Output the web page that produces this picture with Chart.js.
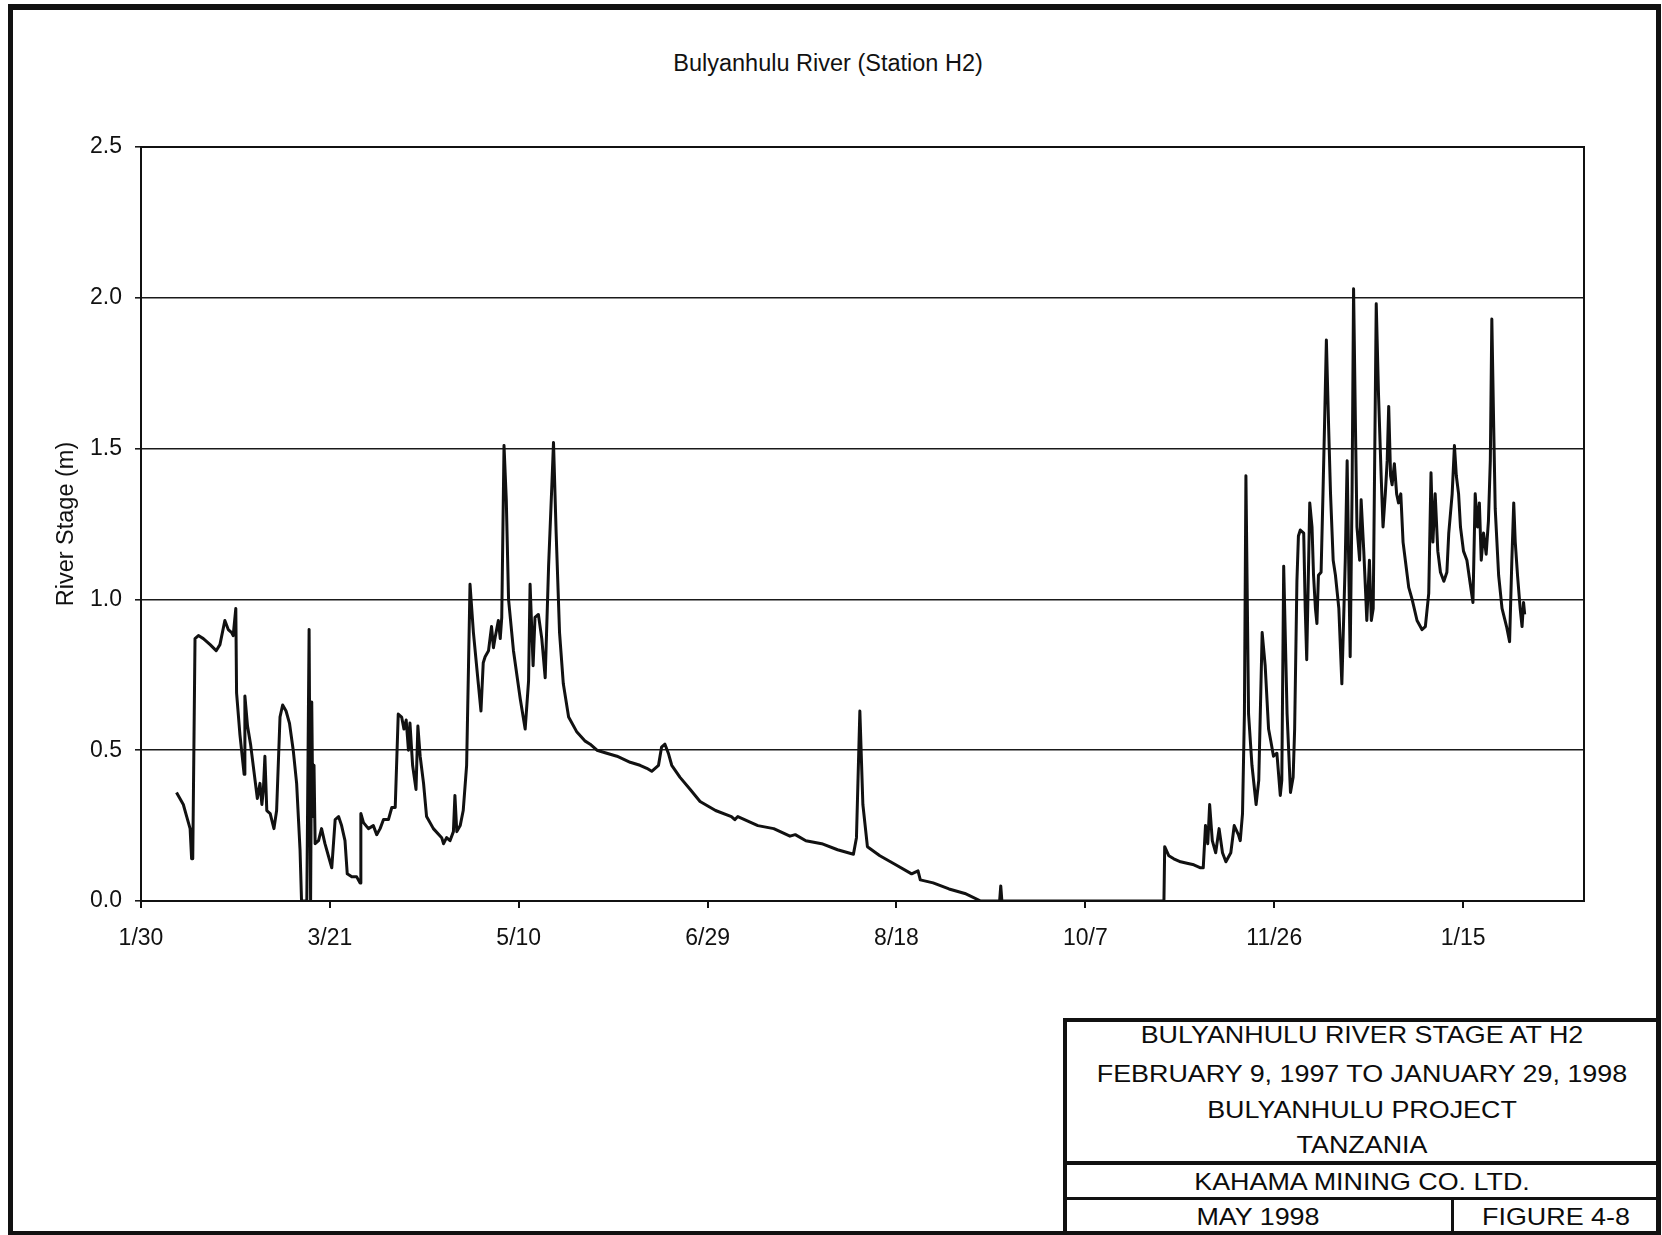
<!DOCTYPE html>
<html>
<head>
<meta charset="utf-8">
<title>Bulyanhulu River (Station H2)</title>
<script src="https://cdn.jsdelivr.net/npm/chart.js@4/dist/chart.umd.min.js"></script>
<style>
  html, body { margin: 0; padding: 0; background: #fff; }
  body { width: 1662px; height: 1235px; position: relative; overflow: hidden;
         font-family: 'Liberation Sans', Arial, Helvetica, sans-serif; color: #111; }
  #frame { position: absolute; left: 8px; top: 4px; width: 1653px; height: 1231px; box-sizing: border-box;
           border-style: solid; border-color: #111; border-width: 6px 5px 4px 5px; }
  #chartBox { position: absolute; left: 0; top: 0; width: 1662px; height: 960px; }
  #title { position: absolute; left: 528px; top: 52px; width: 600px; text-align: center;
           font-size: 23.5px; line-height: 1; white-space: nowrap; }
  .rule { position: absolute; background: #111; }
  .tb { position: absolute; width: 600px; text-align: center; font-size: 24px; line-height: 1;
        white-space: nowrap; transform: scaleX(1.12); color: #0c0c0c; }
</style>
</head>
<body>
<div id="frame"></div>
<div id="title">Bulyanhulu River (Station H2)</div>
<div id="chartBox"><canvas id="stageChart"></canvas></div>

<!-- drawing title block -->
<div class="rule" style="left:1063px; top:1018px; width:598px; height:4px;"></div>
<div class="rule" style="left:1063px; top:1018px; width:4px; height:217px;"></div>
<div class="rule" style="left:1063px; top:1161px; width:598px; height:4px;"></div>
<div class="rule" style="left:1063px; top:1197px; width:598px; height:3px;"></div>
<div class="rule" style="left:1451px; top:1197px; width:3px; height:38px;"></div>
<div class="tb" style="left:1062px; top:1023.3px;">BULYANHULU RIVER STAGE AT H2</div>
<div class="tb" style="left:1062px; top:1062.3px;">FEBRUARY 9, 1997 TO JANUARY 29, 1998</div>
<div class="tb" style="left:1062px; top:1098.3px;">BULYANHULU PROJECT</div>
<div class="tb" style="left:1062px; top:1133.3px;">TANZANIA</div>
<div class="tb" style="left:1062px; top:1170.3px;">KAHAMA MINING CO. LTD.</div>
<div class="tb" style="left:958px; top:1205.3px;">MAY 1998</div>
<div class="tb" style="left:1256px; top:1205.3px;">FIGURE 4-8</div>

<script>
// Days counted from 30 January 1997 (axis origin)
const days = [
  9.4, 10.3, 11.2, 12.1, 13.0, 13.4, 13.7, 14.3, 15.2, 16.5,
  18.3, 19.9, 20.9, 22.2, 23.1, 24.0, 24.4, 25.1, 25.3, 26.2,
  27.3, 27.5, 28.2, 29.0, 29.9, 30.8, 31.5, 32.0, 32.4, 32.8,
  33.3, 34.2, 35.2, 35.9, 36.8, 37.5, 38.4, 39.3, 40.3, 41.2,
  42.1, 42.5, 43.9, 44.5, 44.9, 45.2, 45.5, 45.8, 46.1, 47.0,
  47.8, 48.7, 49.6, 50.5, 51.4, 52.3, 53.1, 54.0, 54.6, 55.8,
  57.1, 58.0, 58.2, 58.9, 60.2, 61.5, 62.4, 63.3, 64.2, 65.5,
  66.4, 67.3, 68.1, 69.0, 69.6, 70.2, 70.8, 71.2, 71.9, 72.8,
  73.3, 73.9, 74.8, 75.6, 77.4, 79.6, 80.1, 80.9, 81.8, 82.7,
  83.1, 83.6, 84.5, 85.3, 86.2, 86.7, 87.1, 88.0, 89.3, 90.0,
  90.6, 91.1, 92.0, 92.8, 93.3, 93.7, 94.6, 95.1, 95.5, 96.1,
  96.7, 97.3, 98.6, 100.4, 101.7, 102.6, 103.0, 103.8, 104.3, 105.2,
  106.1, 107.0, 107.9, 108.8, 109.2, 109.9, 110.8, 111.8, 113.2, 115.4,
  117.6, 118.9, 120.7, 123.3, 126.0, 129.5, 132.1, 133.9, 135.2, 137.0,
  137.8, 138.7, 139.6, 140.5, 142.7, 145.4, 148.0, 152.1, 156.3, 157.2,
  158.0, 163.3, 167.5, 171.8, 173.2, 176.0, 180.2, 184.4, 188.6, 189.4,
  190.3, 191.1, 192.3, 195.6, 199.8, 204.0, 205.7, 206.3, 209.7, 213.9,
  218.1, 222.3, 227.3, 227.6, 227.9, 270.8, 271.0, 272.1, 273.4, 275.2,
  276.9, 278.7, 280.5, 281.2, 281.8, 282.4, 282.9, 283.6, 284.5, 285.4,
  286.3, 287.2, 288.5, 289.4, 290.5, 291.0, 291.6, 292.1, 292.5, 293.2,
  294.1, 295.2, 295.9, 296.8, 297.6, 298.5, 299.1, 299.8, 300.7, 301.6,
  302.0, 302.5, 303.4, 304.3, 305.0, 305.4, 306.0, 306.4, 306.9, 307.8,
  308.2, 308.6, 309.4, 310.0, 310.4, 310.9, 311.3, 311.7, 312.4, 312.9,
  313.3, 313.8, 314.4, 314.9, 315.6, 316.2, 317.1, 317.9, 318.8, 319.3,
  319.7, 320.1, 320.6, 321.0, 321.5, 321.9, 322.6, 323.0, 323.7, 324.2,
  324.5, 325.2, 325.7, 326.2, 326.5, 327.0, 327.6, 328.3, 328.8, 329.4,
  329.9, 330.3, 330.8, 331.2, 331.8, 332.4, 332.9, 333.5, 334.1, 334.7,
  335.6, 336.5, 337.8, 339.1, 340.0, 340.9, 341.5, 342.0, 342.6, 343.3,
  344.0, 344.9, 345.7, 346.2, 347.1, 347.7, 348.2, 348.8, 349.3, 350.1,
  351.0, 351.9, 352.6, 353.2, 353.8, 354.3, 354.8, 355.4, 356.1, 356.7,
  357.2, 357.6, 358.1, 358.5, 359.4, 360.3, 361.5, 362.3, 362.9, 363.4,
  363.8, 364.4, 365.1, 365.6, 366.0, 366.3
];

// River stage (m) at Station H2
const stage = [
  0.36, 0.34, 0.32, 0.28, 0.24, 0.14, 0.14, 0.87, 0.88, 0.87,
  0.85, 0.83, 0.85, 0.93, 0.90, 0.89, 0.88, 0.97, 0.69, 0.55,
  0.42, 0.68, 0.58, 0.52, 0.43, 0.34, 0.39, 0.32, 0.37, 0.48,
  0.30, 0.29, 0.24, 0.30, 0.61, 0.65, 0.63, 0.59, 0.50, 0.39,
  0.17, 0.00, 0.00, 0.90, 0.00, 0.66, 0.28, 0.45, 0.19, 0.20,
  0.24, 0.19, 0.15, 0.11, 0.27, 0.28, 0.25, 0.20, 0.09, 0.08,
  0.08, 0.06, 0.29, 0.26, 0.24, 0.25, 0.22, 0.24, 0.27, 0.27,
  0.31, 0.31, 0.62, 0.61, 0.57, 0.60, 0.50, 0.59, 0.45, 0.37,
  0.58, 0.48, 0.39, 0.28, 0.24, 0.21, 0.19, 0.21, 0.20, 0.23,
  0.35, 0.23, 0.25, 0.30, 0.45, 0.78, 1.05, 0.89, 0.72, 0.63,
  0.79, 0.81, 0.83, 0.91, 0.84, 0.87, 0.93, 0.87, 0.94, 1.51,
  1.33, 1.00, 0.83, 0.67, 0.57, 0.73, 1.05, 0.78, 0.94, 0.95,
  0.87, 0.74, 1.11, 1.39, 1.52, 1.22, 0.89, 0.72, 0.61, 0.56,
  0.53, 0.52, 0.50, 0.49, 0.48, 0.46, 0.45, 0.44, 0.43, 0.45,
  0.51, 0.52, 0.49, 0.45, 0.41, 0.37, 0.33, 0.30, 0.28, 0.27,
  0.28, 0.25, 0.24, 0.215, 0.22, 0.20, 0.19, 0.17, 0.155, 0.21,
  0.63, 0.32, 0.18, 0.15, 0.12, 0.09, 0.10, 0.07, 0.06, 0.04,
  0.025, 0.00, 0.00, 0.05, 0.00, 0.00, 0.18, 0.15, 0.14, 0.13,
  0.125, 0.12, 0.11, 0.11, 0.25, 0.19, 0.32, 0.20, 0.16, 0.24,
  0.16, 0.13, 0.16, 0.25, 0.22, 0.20, 0.29, 0.62, 1.41, 0.62,
  0.45, 0.32, 0.40, 0.89, 0.78, 0.57, 0.53, 0.48, 0.49, 0.35,
  0.40, 1.11, 0.62, 0.36, 0.41, 0.57, 1.06, 1.21, 1.23, 1.22,
  0.97, 0.80, 1.32, 1.24, 1.08, 0.97, 0.92, 1.08, 1.09, 1.35,
  1.57, 1.86, 1.57, 1.35, 1.13, 1.08, 0.97, 0.72, 1.13, 1.46,
  1.13, 0.81, 1.35, 2.03, 1.57, 1.24, 1.13, 1.33, 1.16, 1.02,
  0.93, 1.13, 0.93, 0.97, 1.35, 1.98, 1.68, 1.41, 1.24, 1.35,
  1.46, 1.64, 1.41, 1.38, 1.45, 1.35, 1.32, 1.35, 1.19, 1.13,
  1.04, 1.00, 0.93, 0.90, 0.91, 1.02, 1.42, 1.19, 1.35, 1.16,
  1.09, 1.06, 1.09, 1.22, 1.35, 1.51, 1.41, 1.35, 1.24, 1.16,
  1.13, 1.05, 0.99, 1.35, 1.24, 1.32, 1.13, 1.22, 1.15, 1.26,
  1.46, 1.93, 1.57, 1.30, 1.08, 0.97, 0.91, 0.86, 1.13, 1.32,
  1.19, 1.08, 0.97, 0.91, 0.99, 0.95
];

// Date axis: ticks every 50 days from 1/30
const tickDays = [0, 50, 100, 150, 200, 250, 300, 350];
const tickLabels = ['1/30', '3/21', '5/10', '6/29', '8/18', '10/7', '11/26', '1/15'];
const stageTicks = [0, 0.5, 1.0, 1.5, 2.0, 2.5];

const INK = '#111';
const FONT = "'Liberation Sans', Arial, Helvetica, sans-serif";

// outline around the plotting area
const plotFrame = {
  id: 'plotFrame',
  afterDraw(chart) {
    const { ctx, chartArea: a } = chart;
    ctx.save();
    ctx.strokeStyle = INK;
    ctx.lineWidth = 2;
    ctx.strokeRect(a.left, a.top, a.right - a.left, a.bottom - a.top);
    ctx.restore();
  }
};

new Chart(document.getElementById('stageChart'), {
  type: 'line',
  data: {
    datasets: [{
      label: 'River Stage (m)',
      data: days.map((d, i) => ({ x: d, y: stage[i] })),
      borderColor: INK,
      borderWidth: 3,
      borderJoinStyle: 'round',
      pointRadius: 0,
      tension: 0,
      fill: false
    }]
  },
  options: {
    responsive: true,
    maintainAspectRatio: false,
    animation: false,
    layout: { padding: { left: 20, right: 78, top: 147, bottom: 0 } },
    plugins: {
      legend: { display: false },
      tooltip: { enabled: false },
      title: { display: false }
    },
    scales: {
      x: {
        type: 'linear',
        min: 0,
        max: 382,
        afterBuildTicks: s => { s.ticks = tickDays.map(v => ({ value: v })); },
        afterFit: s => { s.height = 59; },
        ticks: {
          autoSkip: false,
          maxRotation: 0,
          padding: 17,
          color: INK,
          font: { family: FONT, size: 23 },
          callback: v => tickLabels[tickDays.indexOf(v)]
        },
        grid: { drawOnChartArea: false, drawTicks: true, tickLength: 7, color: INK, lineWidth: 2 },
        border: { display: true, color: INK, width: 2 }
      },
      y: {
        min: 0,
        max: 2.5,
        afterBuildTicks: s => { s.ticks = stageTicks.map(v => ({ value: v })); },
        afterFit: s => { s.width = 121; },
        ticks: {
          padding: 13,
          color: INK,
          font: { family: FONT, size: 23 },
          callback: v => Number(v).toFixed(1)
        },
        grid: { color: '#1a1a1a', lineWidth: 1.6, drawTicks: true, tickLength: 6 },
        border: { display: true, color: INK, width: 2 },
        title: {
          display: true,
          text: 'River Stage (m)',
          color: INK,
          font: { family: FONT, size: 23.5 },
          padding: { top: 32, bottom: 0 }
        }
      }
    }
  },
  plugins: [plotFrame]
});
</script>
</body>
</html>
